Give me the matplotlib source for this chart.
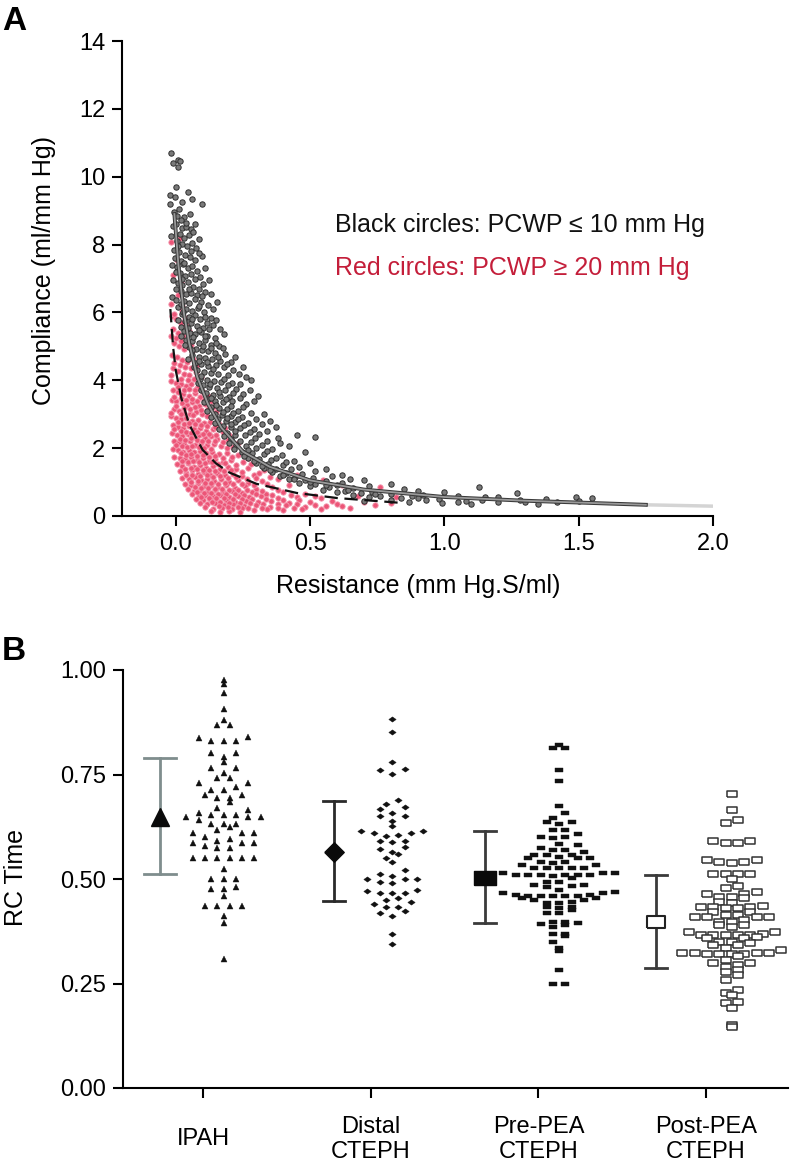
import numpy as np
import matplotlib
matplotlib.use("Agg")
import matplotlib.pyplot as plt
import matplotlib.patheffects as pe

plt.rcParams['font.family'] = ['Liberation Sans', 'DejaVu Sans']

# ---------------- Panel A data (Resistance, Compliance) ----------------
black_points = [
    (-0.016,10.71),(-0.010,10.39),(0.009,10.49),(0.015,10.47),(0.009,10.29),(-0.022,9.46),(-0.004,9.41),(0.044,9.54),
    (-0.022,9.19),(0.096,9.19),(-0.005,8.95),(0.012,9.05),(0.030,8.80),(0.020,8.72),(0.052,8.90),
    (-0.012,8.55),(0.002,8.62),(0.022,8.48),(0.038,8.52),(0.055,8.45),(0.015,8.30),(0.030,8.20),(0.048,8.28),(0.065,8.36),
    (0.005,8.10),(0.025,8.02),(0.042,7.95),(0.060,8.05),(0.075,7.90),(-0.008,7.85),(0.012,7.78),(0.035,7.70),(0.097,7.67),
    (0.052,7.62),(0.070,7.55),(0.020,7.52),
    (-0.015,7.40),(0.005,7.35),(0.028,7.42),(0.045,7.30),(0.062,7.38),(0.080,7.22),(0.015,7.15),(0.035,7.08),(0.055,7.12),
    (0.072,7.00),(0.090,7.05),(-0.010,6.95),(0.008,6.88),(0.025,6.82),(0.045,6.90),(0.065,6.75),(0.085,6.70),(0.108,6.60),
    (0.018,6.62),(0.040,6.55),(0.058,6.58),(0.078,6.52),
    (-0.014,6.45),(0.002,6.38),(0.030,6.35),(0.050,6.28),(0.070,6.40),(0.095,6.30),(0.152,6.32),(0.120,6.22),(0.010,6.15),
    (0.040,6.10),(0.060,6.05),(0.082,6.12),(0.105,6.00),(0.022,5.95),(0.048,5.88),(0.070,5.92),(0.090,5.80),(0.130,5.85),
    (0.115,5.70),(0.035,5.75),(0.058,5.68),(0.078,5.60),(0.100,5.55),(0.140,5.62),(0.020,5.58),(0.165,5.50),
    (0.030,5.45),(0.052,5.40),(0.072,5.35),(0.095,5.42),(0.118,5.30),(0.145,5.25),(0.040,5.20),(0.062,5.15),(0.085,5.10),
    (0.108,5.18),(0.130,5.05),(0.160,5.00),(0.050,4.98),(0.075,4.92),(0.098,4.88),(0.120,4.85),(0.145,4.80),(0.185,4.78),
    (0.060,4.75),(0.088,4.70),(0.110,4.65),(0.135,4.62),(0.165,4.58),(0.205,4.55),(0.072,4.52),
    (0.095,4.48),(0.120,4.42),(0.150,4.45),(0.178,4.38),(0.080,4.30),(0.105,4.25),(0.130,4.22),(0.158,4.18),(0.195,4.15),
    (0.235,4.20),(0.090,4.05),(0.115,4.02),(0.142,3.98),(0.170,3.95),(0.210,3.92),(0.280,4.00),(0.100,3.85),(0.125,3.80),
    (0.152,3.78),(0.185,3.72),(0.225,3.75),(0.112,3.62),(0.138,3.58),(0.165,3.55),(0.200,3.52),(0.250,3.60),(0.305,3.55),
    (0.120,3.45),(0.148,3.40),(0.175,3.35),(0.210,3.38),(0.260,3.30),(0.132,3.22),(0.160,3.18),(0.190,3.15),(0.230,3.10),
    (0.145,3.02),(0.172,2.98),(0.205,2.95),(0.245,2.92),(0.330,3.00),(0.158,2.85),(0.188,2.80),(0.222,2.78),(0.268,2.75),
    (0.175,2.65),(0.205,2.62),(0.240,2.58),(0.290,2.55),(0.375,2.62),
    (0.190,2.45),(0.222,2.40),(0.258,2.38),(0.310,2.42),(0.520,2.33),(0.450,2.40),(0.205,2.28),(0.240,2.22),(0.280,2.18),
    (0.340,2.20),(0.225,2.08),(0.262,2.05),(0.300,2.00),(0.360,1.98),(0.420,2.05),(0.245,1.90),(0.285,1.85),(0.330,1.82),
    (0.395,1.80),(0.270,1.72),(0.310,1.68),(0.355,1.65),(0.440,1.62),(0.300,1.55),(0.345,1.52),(0.400,1.50),(0.500,1.55),
    (0.330,1.42),(0.375,1.40),(0.430,1.38),(0.560,1.40),(0.360,1.30),(0.410,1.28),(0.470,1.25),(0.620,1.22),(0.390,1.18),
    (0.445,1.15),(0.510,1.12),(0.420,1.08),(0.480,1.05),(0.560,1.02),(0.700,1.05),
    (0.460,0.98),(0.520,0.95),(0.600,0.92),(0.800,0.95),(0.500,0.88),(0.570,0.85),(0.660,0.82),(1.130,0.85),(0.550,0.78),
    (0.630,0.75),(0.730,0.72),(0.900,0.75),(0.600,0.70),(0.690,0.68),(0.800,0.65),(1.270,0.68),(0.660,0.62),(0.760,0.60),
    (0.880,0.58),(1.150,0.56),(1.490,0.56),(0.720,0.55),(0.840,0.52),(0.980,0.50),(1.550,0.53),(0.800,0.48),(0.930,0.46),
    (1.080,0.44),(1.280,0.47),(0.990,0.38),(1.200,0.40),(1.350,0.36),(0.870,0.42),(1.420,0.42),(1.100,0.36),(0.700,0.45),
    (0.000,9.70),(0.025,9.25),(0.060,9.35),(0.005,8.85),(0.040,8.65),(0.072,8.60),(-0.018,8.25),(0.085,8.15),(0.008,7.95),
    (0.058,7.82),(0.088,7.75),(-0.004,7.60),(0.030,7.45),(0.110,7.30),(0.000,7.18),(0.022,6.98),(0.100,6.85),(0.125,6.95),
    (0.048,6.68),(0.002,6.70),(0.098,6.48),(0.130,6.55),(0.018,6.25),(0.085,6.20),(0.140,6.10),(0.028,6.02),(0.110,5.88),
    (0.060,5.80),(0.150,5.78),(0.008,5.78),(0.125,5.52),(0.045,5.55),(0.088,5.48),(0.180,5.35),(0.108,5.32),(0.065,5.28),
    (0.020,5.30),(0.150,5.10),(0.175,4.95),(0.100,5.02),(0.035,5.05),(0.130,4.95),(0.060,4.88),(0.158,4.70),(0.085,4.58),
    (0.220,4.68),(0.045,4.62),(0.118,4.55),(0.190,4.48),(0.250,4.40),(0.068,4.40),(0.140,4.32),(0.215,4.30),(0.095,4.12),
    (0.180,4.05),(0.260,4.10),(0.128,3.90),(0.195,3.85),(0.240,3.88),(0.082,3.92),(0.160,3.66),(0.212,3.62),(0.275,3.70),
    (0.095,3.70),(0.130,3.48),(0.188,3.45),(0.238,3.48),(0.290,3.40),(0.105,3.35),(0.150,3.28),(0.205,3.25),(0.250,3.20),
    (0.118,3.10),(0.175,3.08),(0.215,3.05),(0.280,3.05),(0.130,2.92),(0.190,2.90),(0.232,2.85),(0.300,2.85),(0.350,2.80),
    (0.145,2.75),(0.205,2.70),(0.255,2.68),(0.320,2.70),(0.160,2.55),(0.222,2.50),(0.275,2.48),(0.340,2.50),(0.180,2.35),
    (0.295,2.30),(0.380,2.30),(0.200,2.15),(0.320,2.10),(0.390,2.15),(0.218,1.98),(0.270,1.95),(0.340,1.92),(0.480,1.88),
    (0.255,1.78),(0.375,1.72),(0.290,1.62),(0.410,1.58),(0.320,1.46),(0.460,1.45),(0.350,1.35),(0.520,1.32),(0.400,1.22),
    (0.580,1.18),(0.440,1.10),(0.650,1.10),(0.500,1.00),(0.620,0.98),(0.560,0.90),(0.720,0.88),(0.640,0.78),(0.850,0.80),
    (1.000,0.70),(0.740,0.66),(0.920,0.62),(1.050,0.58),(1.200,0.55),(1.380,0.50),(0.900,0.52),(1.140,0.48),(1.500,0.45),
    (1.050,0.42),(1.300,0.40),
]
red_points = [
    (-0.016,8.08),(0.015,8.19),(0.005,7.55),(-0.010,7.10),(0.020,6.90),(0.008,6.50),(-0.018,6.25),(0.025,6.05),
    (-0.015,5.90),(0.000,5.80),(0.018,5.70),(0.035,5.85),(-0.012,5.50),(0.008,5.40),(0.028,5.30),(0.048,5.45),
    (-0.008,5.10),(0.012,5.00),(0.032,4.92),(0.055,5.05),(-0.015,4.75),(0.005,4.68),(0.022,4.60),(0.042,4.55),
    (0.065,4.62),(-0.010,4.35),(0.010,4.28),(0.030,4.20),(0.050,4.15),(0.075,4.25),(0.095,4.10),
    (-0.018,3.98),(0.000,3.92),(0.018,3.88),(0.038,3.82),(0.058,3.90),(0.080,3.78),(-0.012,3.70),(0.008,3.65),
    (0.028,3.60),(0.048,3.55),(0.070,3.62),(0.092,3.50),(0.120,3.55),(-0.015,3.42),(0.002,3.38),(0.022,3.32),
    (0.042,3.28),(0.062,3.35),(0.085,3.25),(0.108,3.30),(0.140,3.20),(-0.008,3.15),(0.012,3.10),(0.032,3.05),
    (0.052,3.02),(0.075,3.08),(0.098,3.00),
    (-0.018,2.95),(0.000,2.90),(0.020,2.85),(0.040,2.88),(0.060,2.80),(0.082,2.82),(0.105,2.75),(0.128,2.78),
    (0.160,2.70),(-0.012,2.68),(0.008,2.62),(0.028,2.58),(0.048,2.65),(0.068,2.55),(0.090,2.60),(0.112,2.52),
    (0.138,2.55),(0.175,2.48),(-0.015,2.45),(0.005,2.40),(0.025,2.35),(0.045,2.42),(0.065,2.32),(0.085,2.38),
    (0.108,2.30),(0.130,2.35),(0.155,2.28),(0.195,2.25),(-0.008,2.22),(0.012,2.18),(0.032,2.12),(0.052,2.20),
    (0.072,2.10),(0.095,2.15),(0.118,2.08),(0.142,2.12),(0.168,2.05),(0.215,2.02),
    (-0.012,1.98),(0.008,1.95),(0.028,1.90),(0.048,1.96),(0.068,1.88),(0.090,1.92),(0.112,1.85),(0.135,1.90),
    (0.160,1.82),(0.190,1.86),(0.230,1.80),(-0.005,1.75),(0.015,1.72),(0.035,1.68),(0.055,1.74),(0.078,1.65),
    (0.100,1.70),(0.122,1.62),(0.148,1.68),(0.175,1.60),(0.205,1.64),(0.250,1.58),(0.300,1.60),(0.005,1.52),
    (0.025,1.48),(0.045,1.55),(0.068,1.45),(0.090,1.50),(0.112,1.42),(0.138,1.48),(0.165,1.40),(0.195,1.45),
    (0.225,1.38),(0.270,1.42),(0.330,1.35),(0.015,1.32),(0.038,1.28),(0.060,1.35),(0.082,1.25),(0.105,1.30),
    (0.128,1.22),(0.155,1.28),(0.182,1.20),(0.212,1.25),(0.245,1.18),(0.290,1.22),(0.350,1.15),(0.450,1.20),
    (0.025,1.12),(0.048,1.08),(0.072,1.14),(0.095,1.05),(0.118,1.10),(0.142,1.02),(0.170,1.08),(0.200,1.00),
    (0.232,1.05),(0.270,0.98),(0.320,1.02),(0.550,1.05),
    (0.035,0.95),(0.058,0.90),(0.082,0.96),(0.105,0.88),(0.130,0.92),(0.158,0.85),(0.188,0.90),(0.220,0.82),
    (0.258,0.88),(0.300,0.80),(0.360,0.85),(0.620,0.90),(0.760,0.85),(0.045,0.80),(0.068,0.75),(0.092,0.78),
    (0.118,0.72),(0.145,0.76),(0.175,0.70),(0.208,0.74),(0.245,0.68),(0.285,0.72),(0.335,0.66),(0.400,0.70),
    (0.480,0.65),(0.060,0.65),(0.085,0.60),(0.110,0.63),(0.138,0.58),(0.165,0.62),(0.198,0.56),(0.232,0.60),
    (0.272,0.55),(0.318,0.58),(0.380,0.54),(0.450,0.57),(0.540,0.52),(0.680,0.60),(0.820,0.56),
    (0.075,0.50),(0.100,0.46),(0.128,0.49),(0.155,0.44),(0.188,0.47),(0.222,0.42),(0.262,0.45),(0.305,0.40),
    (0.355,0.43),(0.420,0.38),(0.500,0.41),(0.600,0.36),(0.090,0.38),(0.118,0.34),(0.148,0.37),(0.180,0.32),
    (0.215,0.35),(0.255,0.30),(0.300,0.33),(0.350,0.28),(0.410,0.31),(0.480,0.27),(0.560,0.30),(0.740,0.32),
    (0.110,0.26),(0.140,0.22),(0.172,0.25),(0.208,0.20),(0.248,0.23),(0.290,0.18),(0.340,0.21),(0.400,0.17),
    (0.470,0.20),(0.130,0.15),(0.165,0.12),(0.200,0.16),(0.240,0.13),(0.650,0.25),
    (-0.005,5.95),(0.022,6.20),(0.040,5.62),(0.000,5.25),(0.020,5.15),(0.040,5.00),(-0.018,5.30),(0.060,4.85),
    (0.015,4.45),(0.035,4.40),(0.055,4.35),(-0.005,4.52),(0.080,4.45),(-0.018,4.15),(0.020,4.05),(0.045,4.00),
    (0.068,4.05),
    (0.010,3.80),(0.030,3.72),(0.050,3.75),(0.070,3.70),(0.100,3.65),(-0.005,3.52),(0.018,3.48),(0.038,3.42),
    (0.060,3.45),(0.080,3.40),(0.105,3.42),(0.130,3.40),(0.000,3.25),(0.030,3.18),(0.052,3.15),(0.072,3.20),
    (0.095,3.12),(0.120,3.15),(0.150,3.08),(-0.018,3.05),(0.020,3.00),(0.065,2.98),(0.118,2.95),
    (0.010,2.78),(0.030,2.72),(0.050,2.75),(0.072,2.70),(0.095,2.68),(0.118,2.65),(0.145,2.62),(0.185,2.60),
    (-0.005,2.55),(0.018,2.50),(0.038,2.48),(0.058,2.45),(0.080,2.48),(0.100,2.42),(0.122,2.42),(0.150,2.40),
    (0.200,2.38),(0.015,2.28),(0.035,2.25),(0.055,2.30),(0.078,2.25),(0.098,2.22),(0.120,2.20),(0.145,2.22),
    (0.175,2.18),(0.230,2.15),(0.000,2.08),(0.022,2.05),(0.042,2.02),(0.062,2.05),(0.085,2.02),(0.105,2.00),
    (0.130,1.98),(0.190,2.00),
    (0.018,1.85),(0.038,1.80),(0.058,1.82),(0.080,1.78),(0.100,1.80),(0.122,1.75),(0.145,1.78),(0.175,1.72),
    (0.210,1.75),(0.270,1.70),(0.025,1.62),(0.045,1.60),(0.065,1.62),(0.088,1.58),(0.110,1.55),(0.135,1.58),
    (0.158,1.52),(0.185,1.55),(0.225,1.50),(0.280,1.52),(0.035,1.40),(0.055,1.42),(0.078,1.38),(0.100,1.36),
    (0.122,1.35),(0.148,1.34),(0.178,1.32),(0.205,1.35),(0.248,1.30),(0.310,1.28),(0.040,1.20),(0.062,1.22),
    (0.092,1.18),(0.115,1.20),(0.140,1.15),(0.165,1.18),(0.195,1.12),(0.225,1.15),(0.265,1.10),(0.300,1.12),
    (0.380,1.08),(0.058,1.00),(0.082,1.02),(0.108,0.98),(0.132,0.98),(0.158,0.95),(0.185,0.97),(0.215,0.93),
    (0.245,0.95),(0.290,0.92),(0.340,0.95),(0.420,0.92),
    (0.070,0.85),(0.095,0.83),(0.120,0.82),(0.145,0.80),(0.172,0.80),(0.200,0.78),(0.232,0.77),(0.265,0.78),
    (0.320,0.75),(0.380,0.78),(0.080,0.70),(0.105,0.68),(0.130,0.67),(0.158,0.66),(0.188,0.65),(0.220,0.65),
    (0.255,0.62),(0.300,0.64),(0.360,0.62),(0.430,0.62),(0.520,0.60),(0.095,0.55),(0.122,0.53),(0.150,0.52),
    (0.180,0.52),(0.212,0.50),(0.245,0.51),(0.285,0.49),(0.335,0.50),(0.400,0.48),(0.460,0.46),(0.580,0.45),
    (0.135,0.41),(0.165,0.40),(0.200,0.39),(0.238,0.38),(0.278,0.37),(0.325,0.36),(0.380,0.35),(0.450,0.34),
    (0.520,0.33),(0.160,0.29),(0.195,0.28),(0.230,0.27),(0.270,0.25),(0.320,0.25),(0.380,0.24),(0.440,0.23),
    (0.540,0.22),(0.700,0.40),(0.800,0.38),(0.620,0.30),
]
# fitted curves
fit_black_R = [-0.005, 0.01, 0.03, 0.05, 0.08, 0.12, 0.17, 0.25, 0.35, 0.5, 0.7, 1.0, 1.3, 1.75]
fit_black_C = [8.9, 7.4, 6.0, 5.1, 4.1, 3.3, 2.6, 1.9, 1.45, 1.05, 0.78, 0.56, 0.45, 0.33]
fit_black_ext_R = [1.75, 2.0]
fit_black_ext_C = [0.33, 0.29]
fit_red_R = [-0.02, -0.01, 0.0, 0.02, 0.05, 0.1, 0.15, 0.2, 0.3, 0.45, 0.6, 0.85]
fit_red_C = [6.1, 5.0, 4.3, 3.5, 2.7, 1.95, 1.55, 1.28, 0.95, 0.68, 0.53, 0.38]

# ---------------- Panel B data ----------------
groups = ["IPAH", "Distal\nCTEPH", "Pre-PEA\nCTEPH", "Post-PEA\nCTEPH"]
group_mean = [0.648, 0.565, 0.503, 0.396]
group_low = [0.512, 0.448, 0.394, 0.288]
group_high = [0.790, 0.687, 0.615, 0.510]

ipah = [0.976,0.967,0.944,0.906,0.880,0.868,0.868,0.840,0.837,0.830,0.830,0.830,0.802,0.802,0.793,0.781,
        0.765,0.765,0.754,0.741,0.741,0.729,0.729,0.721,0.713,0.713,0.701,0.701,0.693,0.693,0.685,0.671,
        0.665,0.659,0.653,0.653,0.653,0.649,0.649,0.649,0.641,0.631,0.631,0.631,0.625,0.617,0.609,0.609,
        0.609,0.601,0.595,0.592,0.585,0.585,0.585,0.580,0.573,0.573,0.551,0.551,0.551,0.551,0.551,0.551,
        0.523,0.499,0.499,0.499,0.480,0.475,0.475,0.459,0.435,0.435,0.435,0.435,0.411,0.394,0.308]
distal = [0.883,0.851,0.781,0.763,0.761,0.751,0.689,0.679,0.673,0.667,0.657,0.651,0.651,0.639,0.627,
          0.615,0.615,0.609,0.609,0.605,0.603,0.592,0.592,0.588,0.576,0.571,0.564,0.559,0.550,0.541,
          0.522,0.512,0.506,0.499,0.499,0.499,0.494,0.490,0.474,0.471,0.467,0.467,0.467,0.454,0.450,
          0.446,0.440,0.432,0.432,0.423,0.418,0.412,0.368,0.344]
pre_pea = [0.821,0.813,0.813,0.761,0.735,0.675,0.657,0.645,0.637,0.637,0.632,0.617,0.617,0.608,0.601,
           0.601,0.597,0.584,0.581,0.573,0.569,0.569,0.565,0.557,0.557,0.557,0.553,0.550,0.550,0.550,
           0.541,0.541,0.538,0.533,0.533,0.526,0.526,0.526,0.526,0.526,0.515,0.515,0.514,0.510,0.510,
           0.510,0.510,0.510,0.510,0.506,0.502,0.494,0.494,0.486,0.486,0.483,0.482,0.474,0.470,0.467,
           0.466,0.462,0.462,0.459,0.459,0.459,0.459,0.459,0.454,0.454,0.450,0.450,0.446,0.442,0.442,
           0.434,0.434,0.430,0.426,0.419,0.419,0.398,0.398,0.395,0.392,0.390,0.384,0.368,0.368,0.364,
           0.350,0.334,0.328,0.282,0.250,0.250]
post_pea = [0.703,0.665,0.641,0.635,0.591,0.591,0.585,0.585,0.545,0.545,0.541,0.541,0.538,0.511,0.511,
            0.511,0.511,0.499,0.483,0.479,0.470,0.463,0.463,0.458,0.458,0.455,0.446,0.442,0.435,0.434,
            0.432,0.432,0.430,0.430,0.422,0.422,0.414,0.414,0.410,0.410,0.410,0.410,0.402,0.398,0.398,
            0.390,0.390,0.386,0.374,0.374,0.368,0.366,0.366,0.366,0.366,0.366,0.362,0.358,0.358,0.350,
            0.350,0.346,0.342,0.342,0.334,0.330,0.322,0.322,0.322,0.322,0.321,0.321,0.321,0.321,0.316,
            0.306,0.298,0.298,0.294,0.290,0.282,0.278,0.270,0.258,0.234,0.227,0.222,0.206,0.203,0.191,
            0.150,0.147]

# ---------------- Figure ----------------
W, H = 793, 1164
fig = plt.figure(figsize=(W / 100, H / 100), dpi=100)


def fx(px):
    return px / W


def fy(py):
    return 1 - py / H


TICK_FS = 17
LABEL_FS = 18

# ---- Panel A ----
axA = fig.add_axes([fx(122), fy(516), fx(713) - fx(122), fy(41) - fy(516)])
bR = [p[0] for p in black_points]
bC = [p[1] for p in black_points]
rR = [p[0] for p in red_points]
rC = [p[1] for p in red_points]
axA.scatter(rR, rC, s=15, facecolor='#ec5577', edgecolor='#f49ab0', linewidth=0.6, zorder=2)
axA.scatter(bR, bC, s=15, facecolor='#7a7a7a', edgecolor='#2e2e2e', linewidth=0.7, zorder=3)
axA.plot(fit_black_ext_R, fit_black_ext_C, color='#d4d4d4', lw=2.5, zorder=4, solid_capstyle='butt')
axA.plot(fit_black_R, fit_black_C, color='#9a9a9a', lw=1.3, zorder=5,
         path_effects=[pe.Stroke(linewidth=2.8, foreground='#3a3a3a'), pe.Normal()])
axA.plot(fit_red_R, fit_red_C, color='#111111', lw=1.6, ls=(0, (6, 3)), zorder=5)

axA.set_xlim(-0.2, 2.0)
axA.set_ylim(0, 14)
axA.set_xticks([0.0, 0.5, 1.0, 1.5, 2.0])
axA.set_xticklabels(["0.0", "0.5", "1.0", "1.5", "2.0"])
axA.set_yticks(range(0, 15, 2))
for s in ['top', 'right']:
    axA.spines[s].set_visible(False)
for s in ['left', 'bottom']:
    axA.spines[s].set_linewidth(1.5)
axA.tick_params(direction='out', length=7, width=1.5, labelsize=TICK_FS, pad=5)
axA.text(0.593, 8.58, "Black circles: PCWP \u2264 10 mm Hg", fontsize=LABEL_FS, color='#111111',
         ha='left', va='center')
axA.text(0.593, 7.31, "Red circles: PCWP \u2265 20 mm Hg", fontsize=LABEL_FS, color='#c41e3a',
         ha='left', va='center')

fig.text(fx(44), fy(270), "Compliance (ml/mm Hg)", rotation=90, ha='center', va='center', fontsize=LABEL_FS)
fig.text(fx(418), fy(586), "Resistance (mm Hg.S/ml)", ha='center', va='center', fontsize=LABEL_FS)
fig.text(fx(14), fy(22), "A", ha='center', va='center', fontsize=24, fontweight='bold')

# ---- Panel B ----
axB = fig.add_axes([fx(123), fy(1088), fx(788) - fx(123), fy(670) - fy(1088)])
axB.set_xlim(-0.48, 3.49)
axB.set_ylim(0, 1.0)

col_w = 0.074                            # horizontal step between neighbouring dots
row_h = [0.020, 0.019, 0.0155, 0.0155]   # height of a swarm row


def row_offsets(vals, h):
    """Dots falling in the same row are spread symmetrically around the centre."""
    vals = np.asarray(vals, float)
    rows = np.floor(vals / h + 0.5).astype(int)
    offs = np.zeros(len(vals))
    for r in np.unique(rows):
        idx = np.where(rows == r)[0]
        idx = idx[np.argsort(vals[idx])]
        n = len(idx)
        # interleave so that neighbouring values sit on alternate sides
        slots = sorted(range(n), key=lambda k: (abs(k - (n - 1) / 2), k))
        for j, i in zip(slots, idx):
            offs[i] = (j - (n - 1) / 2) * col_w
    return offs


tri = '^'
diamond_small = [(-1.4, 0), (0, 1), (1.4, 0), (0, -1), (-1.4, 0)]
rect_small = [(-1.8, -1), (1.8, -1), (1.8, 1), (-1.8, 1), (-1.8, -1)]
rect_hollow = [(-1.5, -1), (1.5, -1), (1.5, 1), (-1.5, 1), (-1.5, -1)]
diamond_big = [(-1, 0), (0, 1), (1, 0), (0, -1), (-1, 0)]
rect_big = [(-1.7, -1), (1.7, -1), (1.7, 1), (-1.7, 1), (-1.7, -1)]
rect_big_hollow = [(-1.5, -1), (1.5, -1), (1.5, 1), (-1.5, 1), (-1.5, -1)]

series = [ipah, distal, pre_pea, post_pea]
swarm_center = [0.12, 0.127, 0.124, 0.155]
err_pos = [-0.26, -0.22, -0.32, -0.30]
dot_style = [
    dict(marker=tri, ms=5.0, mfc='#111111', mec='#111111', mew=0.3),
    dict(marker=diamond_small, ms=5.3, mfc='#111111', mec='#111111', mew=0.3),
    dict(marker=rect_small, ms=6.2, mfc='#111111', mec='#111111', mew=0.3),
    dict(marker=rect_hollow, ms=6.5, mfc='white', mec='#333333', mew=1.1),
]
mean_style = [
    dict(marker='^', ms=13, mfc='#0a0a0a', mec='#0a0a0a'),
    dict(marker=diamond_big, ms=14, mfc='#0a0a0a', mec='#0a0a0a'),
    dict(marker=rect_big, ms=16, mfc='#0a0a0a', mec='#0a0a0a'),
    dict(marker=rect_big_hollow, ms=13.5, mfc='white', mec='#222222', mew=1.5),
]
err_color = ['#7f8d8d', '#2a2a2a', '#3a3a3a', '#3a3a3a']
cap_half = [0.095, 0.065, 0.065, 0.065]

for g, vals in enumerate(series):
    offs = row_offsets(vals, row_h[g])
    axB.plot(g + swarm_center[g] + offs, vals, ls='none', zorder=3, **dot_style[g])
    xe = g + err_pos[g]
    axB.plot([xe, xe], [group_low[g], group_high[g]], color=err_color[g], lw=2.0, zorder=2)
    for yv in (group_low[g], group_high[g]):
        axB.plot([xe - cap_half[g], xe + cap_half[g]], [yv, yv], color=err_color[g], lw=2.0, zorder=2)
    axB.plot([xe], [group_mean[g]], ls='none', zorder=4, **mean_style[g])

axB.set_xticks(range(len(groups)))
axB.set_xticklabels(groups, fontsize=TICK_FS, va='center', linespacing=1.15)
axB.set_yticks([0.0, 0.25, 0.5, 0.75, 1.0])
axB.set_yticklabels(["0.00", "0.25", "0.50", "0.75", "1.00"])
for s in ['top', 'right']:
    axB.spines[s].set_visible(False)
for s in ['left', 'bottom']:
    axB.spines[s].set_linewidth(1.5)
axB.tick_params(axis='y', direction='out', length=7, width=1.5, labelsize=TICK_FS, pad=5)
axB.tick_params(axis='x', direction='out', length=7, width=1.5, labelsize=TICK_FS, pad=30)

fig.text(fx(16), fy(877), "RC Time", rotation=90, ha='center', va='center', fontsize=LABEL_FS)
fig.text(fx(14), fy(651), "B", ha='center', va='center', fontsize=24, fontweight='bold')

fig.savefig("out.png", dpi=100)
